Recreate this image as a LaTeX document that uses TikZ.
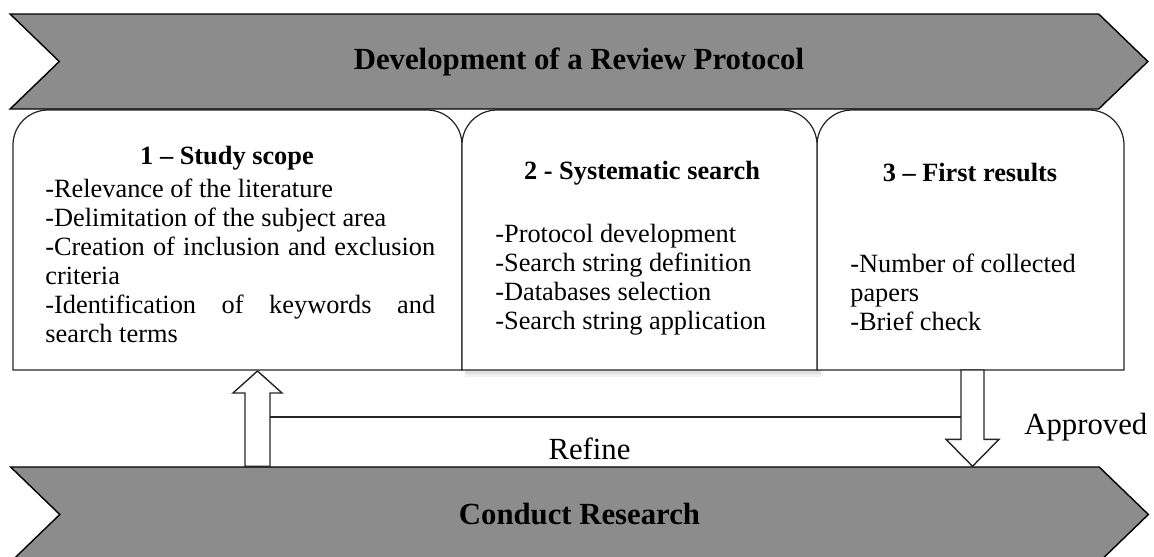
\documentclass[tikz,border=0pt]{standalone}
\usepackage{fontspec}
\setmainfont{Liberation Serif}
\usetikzlibrary{shapes.symbols, calc}
\definecolor{bannergray}{RGB}{140,140,140}

\begin{document}
\hyphenpenalty=10000
\exhyphenpenalty=10000
\begin{tikzpicture}[
  x=0.02cm, y=-0.02cm,
  banner/.style={signal, signal from=west, signal to=east, signal pointer angle=88, draw=black, line width=0.8pt, fill=bannergray, minimum width=22.76cm, minimum height=1.9cm, inner sep=0pt, font=\fontsize{17.5}{20}\selectfont\bfseries},
  stagebox/.style={draw=black!85, line width=0.7pt, fill=white},
  stagetitle/.style={anchor=base, inner sep=0pt, font=\fontsize{15}{16.45}\selectfont\bfseries},
  stagelist/.style={anchor=north west, inner sep=0pt, align=left, font=\fontsize{15}{16.45}\selectfont},
  blockarrow/.style={draw=black!85, line width=0.8pt, fill=white, line join=miter},
  flowlabel/.style={font=\fontsize{17.5}{20}\selectfont, inner sep=0pt}
]
\useasboundingbox (0,0) rectangle (1154,557);

% ============================================
% Stage boxes
% ============================================
\fill[black!12] (465,370) rectangle (821,374);
\fill[black!6] (465,374) rectangle (821,377);
\path[stagebox] (13,370) [rounded corners=0.7cm] -- (13,110) -- (462,110) [sharp corners] -- (462,370) -- cycle;
\path[stagebox] (817,370) [rounded corners=0.7cm] -- (817,110) -- (1124,110) [sharp corners] -- (1124,370) -- cycle;
\path[stagebox] (462,370) [rounded corners=0.7cm] -- (462,110) -- (817,110) [sharp corners] -- (817,370) -- cycle;

\node[stagetitle] (scopetitle) at (227,165) {1 -- Study scope};
\node[stagelist, text width=7.8cm, align=justify] (scopelist) at (45,179) {-Relevance of the literature\\-Delimitation of the subject area\\-Creation of inclusion and exclusion criteria\\-Identification of keywords and search terms};

\node[stagetitle] (searchtitle) at (642,180) {2 - Systematic search};
\node[stagelist] (searchlist) at (495,224) {-Protocol development\\-Search string definition\\-Databases selection\\-Search string application};

\node[stagetitle] (resultstitle) at (970,182) {3 -- First results};
\node[stagelist] (resultslist) at (850,254) {-Number of collected\\papers\\-Brief check};

% ============================================
% Banners
% ============================================
\node[banner] (protocol) at (579,61.5) {Development of a Review Protocol};
\node[banner] (research) at (579.5,514.5) {Conduct Research};

% ============================================
% Feedback loop
% ============================================
\coordinate (refinefoot) at (257.5,0 |- research.north);
\coordinate (refinetip) at (257.5,371);
\coordinate (approvedfoot) at (972.5,370);
\coordinate (approvedtip) at (972.5,0 |- research.north);

% up arrow (refine)
\draw[blockarrow] ($(refinefoot)+(-12.5,0)$) -- ($(refinetip)+(-12.5,22)$) -- ($(refinetip)+(-24.5,22)$) -- (refinetip)
  -- ($(refinetip)+(24.5,22)$) -- ($(refinetip)+(12.5,22)$) -- ($(refinefoot)+(12.5,0)$) -- cycle;
% down arrow (approved)
\draw[blockarrow] ($(approvedfoot)+(-11.5,0)$) -- ($(approvedtip)+(-11.5,-27)$) -- ($(approvedtip)+(-26.5,-27)$) -- (approvedtip)
  -- ($(approvedtip)+(26.5,-27)$) -- ($(approvedtip)+(11.5,-27)$) -- ($(approvedfoot)+(11.5,0)$) -- cycle;

\coordinate (refinestart) at (270,417);
\coordinate (refineend) at (961,417);
\draw[line width=0.8pt, draw=black!85] (refinestart) -- (refineend);

\node[flowlabel] (refinelabel) at (589.5,449) {Refine};
\node[flowlabel, anchor=west] (approvedlabel) at (1024,427) {Approved};

\end{tikzpicture}
\end{document}
